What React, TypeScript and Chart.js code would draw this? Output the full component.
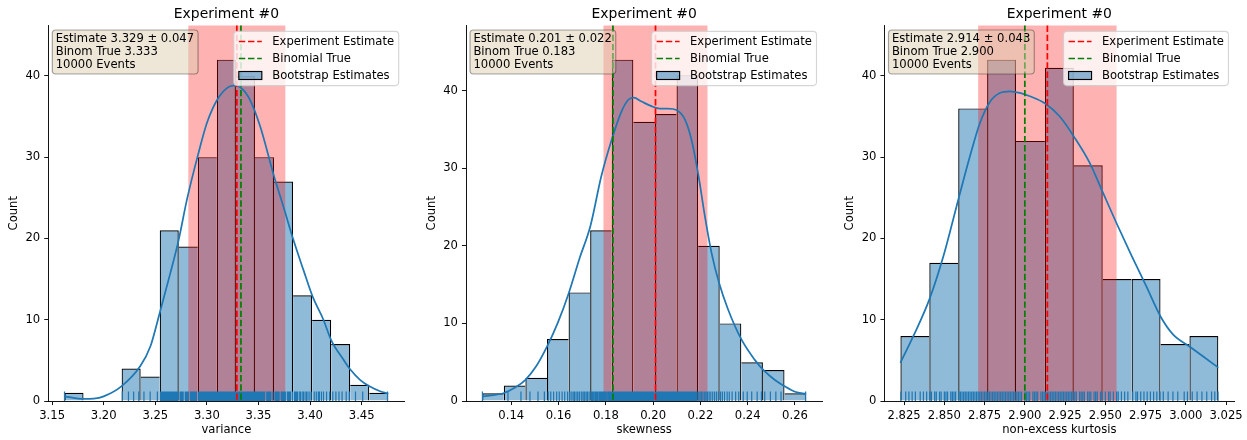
import React, { useEffect, useRef } from 'react';
import { Chart, registerables } from 'chart.js';

Chart.register(...registerables);
Chart.defaults.font.family = '"DejaVu Sans", sans-serif';
Chart.defaults.color = '#000';

// ---------- shared text ----------
const chartTitle = 'Experiment #0';
const yAxisLabel = 'Count';
const legendLabels = ['Experiment Estimate', 'Binomial True', 'Bootstrap Estimates'];
const yTickValues = [0, 10, 20, 30, 40];

// ---------- panel 1 : variance ----------
const p1XLabel = 'variance';
const p1BinLo = 3.162;
const p1BinHi = 3.4758;
const p1Counts = [1, 0, 0, 4, 3, 21, 19, 30, 42, 40, 30, 27, 13, 10, 7, 2, 1];
const p1TickLabels = ['3.15', '3.20', '3.25', '3.30', '3.35', '3.40', '3.45'];
const p1KdeX = [3.1619, 3.1806, 3.1903, 3.2, 3.2171, 3.2355, 3.2452, 3.2542, 3.2645, 3.2726, 3.2807, 3.291, 3.3, 3.3097, 3.3194, 3.3258, 3.3323, 3.342, 3.3516, 3.3652, 3.3742, 3.3839, 3.3936, 3.4023, 3.4129, 3.4204, 3.4323, 3.4388, 3.4484, 3.4575, 3.4678, 3.4758];
const p1KdeY = [0.57, 0.25, 0.29, 0.57, 1.8, 4.3, 6.7, 10.8, 15.7, 19.8, 24.8, 30.1, 34.2, 37.0, 38.5, 38.8, 38.6, 37.0, 33.8, 27.6, 23.9, 19.8, 16.1, 12.9, 10.0, 7.5, 5.1, 3.9, 2.6, 1.8, 1.2, 0.9];
const p1Rug = [3.162, 3.218, 3.224, 3.229, 3.234, 3.239, 3.245, 3.252,
  3.255, 3.256, 3.257, 3.258, 3.259, 3.260, 3.261, 3.262, 3.263, 3.264, 3.265, 3.266, 3.267, 3.268, 3.269, 3.270, 3.271, 3.272,
  3.274, 3.275, 3.276, 3.277, 3.279, 3.280, 3.281, 3.282, 3.284, 3.285, 3.286, 3.287, 3.288, 3.289, 3.290,
  3.292, 3.293, 3.294, 3.295, 3.296, 3.297, 3.298, 3.299, 3.300, 3.301, 3.302, 3.303, 3.304, 3.305, 3.306, 3.307, 3.308, 3.309,
  3.310, 3.311, 3.312, 3.313, 3.314, 3.315, 3.316, 3.317, 3.318, 3.319, 3.320, 3.321, 3.322, 3.323, 3.324, 3.325, 3.326, 3.327, 3.328,
  3.329, 3.330, 3.331, 3.332, 3.333, 3.334, 3.335, 3.336, 3.337, 3.338, 3.339, 3.340, 3.341, 3.342, 3.343, 3.344, 3.345, 3.346,
  3.347, 3.348, 3.349, 3.350, 3.351, 3.352, 3.353, 3.354, 3.355, 3.356, 3.358, 3.359, 3.360, 3.361, 3.362, 3.364,
  3.366, 3.367, 3.368, 3.369, 3.370, 3.372, 3.373, 3.374, 3.375, 3.376, 3.378, 3.379, 3.380, 3.381, 3.383,
  3.385, 3.386, 3.387, 3.388, 3.390, 3.391, 3.393, 3.394, 3.396, 3.397, 3.399, 3.401,
  3.404, 3.406, 3.408, 3.409, 3.411, 3.413, 3.416, 3.419,
  3.422, 3.425, 3.428, 3.431, 3.435, 3.438,
  3.444, 3.451, 3.475];
const p1Estimate = 3.329;
const p1Error = 0.047;
const p1True = 3.333;
const p1Events = 10000;

// ---------- panel 2 : skewness ----------
const p2XLabel = 'skewness';
const p2BinLo = 0.1277;
const p2BinHi = 0.2647;
const p2Counts = [1, 2, 3, 8, 14, 22, 44, 36, 37, 42, 20, 10, 5, 4, 1];
const p2TickLabels = ['0.14', '0.16', '0.18', '0.20', '0.22', '0.24', '0.26'];
const p2KdeX = [0.1277, 0.1367, 0.1414, 0.1459, 0.1506, 0.1551, 0.1597, 0.1643, 0.1689, 0.1735, 0.1781, 0.1826, 0.1866, 0.1894, 0.1918, 0.1951, 0.1993, 0.2028, 0.2063, 0.2099, 0.2134, 0.2162, 0.2192, 0.2219, 0.2247, 0.2279, 0.2317, 0.2374, 0.243, 0.2466, 0.2515, 0.2556, 0.26, 0.2647];
const p2KdeY = [0.6, 1.0, 1.7, 2.7, 4.5, 7.0, 10.1, 13.9, 18.4, 22.6, 29.0, 33.8, 37.3, 38.8, 39.1, 38.6, 38.0, 37.7, 37.7, 37.5, 36.3, 33.7, 29.0, 23.8, 19.1, 15.2, 11.8, 7.9, 5.3, 4.0, 2.7, 1.9, 1.2, 0.9];
const p2Rug = [0.1278, 0.1386, 0.1441, 0.1479, 0.1513, 0.1540,
  0.1556, 0.1567, 0.1579, 0.1592, 0.1603, 0.1615, 0.1626, 0.1638,
  0.1646, 0.1653, 0.1661, 0.1667, 0.1674, 0.1681, 0.1688, 0.1696, 0.1703, 0.1709, 0.1716, 0.1722, 0.1729,
  0.1737, 0.1742, 0.1747, 0.1753, 0.1758, 0.1762, 0.1767, 0.1773, 0.1778, 0.1783, 0.1787, 0.1792, 0.1797, 0.1802, 0.1808, 0.1813, 0.1818, 0.1822,
  0.1827, 0.1831, 0.1835, 0.1838, 0.1842, 0.1846, 0.1849, 0.1853, 0.1857, 0.1860, 0.1864, 0.1868, 0.1871, 0.1875, 0.1879, 0.1882, 0.1886, 0.1890, 0.1893, 0.1897, 0.1901, 0.1904, 0.1908, 0.1912, 0.1915,
  0.1918, 0.1922, 0.1926, 0.1930, 0.1934, 0.1938, 0.1942, 0.1946, 0.1950, 0.1954, 0.1958, 0.1962, 0.1966, 0.1970, 0.1974, 0.1979, 0.1983, 0.1988, 0.1993, 0.1998, 0.2003,
  0.2009, 0.2013, 0.2017, 0.2021, 0.2026, 0.2030, 0.2034, 0.2038, 0.2043, 0.2047, 0.2051, 0.2056, 0.2060, 0.2064, 0.2069, 0.2073, 0.2078, 0.2082, 0.2087, 0.2091, 0.2096,
  0.2101, 0.2105, 0.2108, 0.2112, 0.2116, 0.2120, 0.2124, 0.2128, 0.2132, 0.2136, 0.2140, 0.2144, 0.2148, 0.2152, 0.2156, 0.2161, 0.2165, 0.2169, 0.2173, 0.2178, 0.2182, 0.2186,
  0.2193, 0.2199, 0.2205, 0.2211, 0.2218, 0.2224, 0.2230, 0.2237, 0.2244, 0.2252, 0.2260, 0.2268, 0.2276,
  0.2285, 0.2293, 0.2302, 0.2313, 0.2322, 0.2334, 0.2349, 0.2362,
  0.2381, 0.2398, 0.2417, 0.2440, 0.2458,
  0.2472, 0.2496, 0.2519, 0.2541,
  0.2645];
const p2Estimate = 0.201;
const p2Error = 0.022;
const p2True = 0.183;
const p2Events = 10000;

// ---------- panel 3 : non-excess kurtosis ----------
const p3XLabel = 'non-excess kurtosis';
const p3BinLo = 2.8227;
const p3BinHi = 3.0202;
const p3Counts = [8, 17, 36, 42, 32, 41, 29, 15, 15, 7, 8];
const p3TickLabels = ['2.825', '2.850', '2.875', '2.900', '2.925', '2.950', '2.975', '3.000', '3.025'];
const p3KdeX = [2.8227, 2.8308, 2.8407, 2.8494, 2.8587, 2.8659, 2.8721, 2.8783, 2.8845, 2.8907, 2.8969, 2.9031, 2.9126, 2.9217, 2.9306, 2.9403, 2.9486, 2.9569, 2.9665, 2.9755, 2.9843, 2.992, 3.0023, 3.0106, 3.0202];
const p3KdeY = [4.7, 8.0, 12.5, 17.8, 24.8, 30.1, 34.2, 36.8, 37.9, 38.1, 37.9, 37.5, 36.6, 35.0, 32.5, 29.3, 25.6, 21.9, 17.8, 14.1, 10.4, 8.2, 6.7, 5.5, 4.1];
const p3Rug = [2.823, 2.826, 2.828, 2.830, 2.832, 2.835, 2.837, 2.839,
  2.841, 2.842, 2.844, 2.845, 2.847, 2.848, 2.850, 2.851, 2.852, 2.854, 2.855, 2.856, 2.857,
  2.859, 2.860, 2.861, 2.862, 2.863, 2.864, 2.865, 2.866, 2.867, 2.868, 2.869, 2.870, 2.871, 2.872, 2.873, 2.874, 2.875, 2.876,
  2.877, 2.878, 2.879, 2.880, 2.881, 2.882, 2.883, 2.884, 2.885, 2.886, 2.887, 2.888, 2.889, 2.890, 2.891, 2.892, 2.893, 2.894,
  2.895, 2.896, 2.897, 2.898, 2.900, 2.901, 2.902, 2.903, 2.905, 2.906, 2.907, 2.908, 2.910, 2.911, 2.912,
  2.913, 2.914, 2.915, 2.916, 2.917, 2.918, 2.919, 2.920, 2.921, 2.922, 2.923, 2.924, 2.925, 2.926, 2.927, 2.928, 2.929, 2.930,
  2.931, 2.932, 2.934, 2.935, 2.936, 2.937, 2.939, 2.940, 2.941, 2.943, 2.944, 2.945, 2.947, 2.948,
  2.950, 2.952, 2.953, 2.955, 2.957, 2.958, 2.960, 2.962, 2.964,
  2.967, 2.969, 2.970, 2.972, 2.974, 2.976, 2.978, 2.980, 2.982, 2.984,
  2.986, 2.989, 2.992, 2.995, 2.999, 3.001,
  3.004, 3.007, 3.010, 3.013, 3.016, 3.018, 3.020];
const p3Estimate = 2.914;
const p3Error = 0.043;
const p3True = 2.9;
const p3Events = 10000;

// ---------- layout (pixels, not data) ----------
const FIG_W = 1247;
const FIG_H = 440;
const AX_LEFT = [48.3, 466, 884.5];
const AX_RIGHT = [404.5, 822.3, 1235];
const AX_TOP = 25.5;
const AX_BOTTOM = 401;
const FS = 11.6; // 10pt
const FS_TITLE = 13.9; // 12pt
const PT = 1.157;

type PanelData = {
  xLabel: string;
  binLo: number;
  binHi: number;
  counts: number[];
  tickLabels: string[];
  kdeX: number[];
  kdeY: number[];
  rug: number[];
  estimate: number;
  error: number;
  binomTrue: number;
  events: number;
};

const panels: PanelData[] = [
  { xLabel: p1XLabel, binLo: p1BinLo, binHi: p1BinHi, counts: p1Counts, tickLabels: p1TickLabels, kdeX: p1KdeX, kdeY: p1KdeY, rug: p1Rug, estimate: p1Estimate, error: p1Error, binomTrue: p1True, events: p1Events },
  { xLabel: p2XLabel, binLo: p2BinLo, binHi: p2BinHi, counts: p2Counts, tickLabels: p2TickLabels, kdeX: p2KdeX, kdeY: p2KdeY, rug: p2Rug, estimate: p2Estimate, error: p2Error, binomTrue: p2True, events: p2Events },
  { xLabel: p3XLabel, binLo: p3BinLo, binHi: p3BinHi, counts: p3Counts, tickLabels: p3TickLabels, kdeX: p3KdeX, kdeY: p3KdeY, rug: p3Rug, estimate: p3Estimate, error: p3Error, binomTrue: p3True, events: p3Events },
];

const FONT = `${FS}px "DejaVu Sans", sans-serif`;
const BLUE = '#1f77b4';
const BAR_FILL = 'rgba(31,119,180,0.5)';
const BAR_EDGE = '#000';
const DASH = [3.7 * 1.5 * PT, 1.6 * 1.5 * PT];
const VLW = 1.5 * PT;

function Panel({ d, idx }: { d: PanelData; idx: number }) {
  const ref = useRef<HTMLCanvasElement>(null);
  const L = AX_LEFT[idx];
  const R = AX_RIGHT[idx];
  const canvasLeft = Math.floor(L - 48);
  const yW = L - canvasLeft;
  const canvasRight = Math.min(FIG_W, Math.round(R + 12));
  const canvasW = canvasRight - canvasLeft;
  const padRight = canvasRight - R;

  useEffect(() => {
    const n = d.counts.length;
    const bw = (d.binHi - d.binLo) / n;
    const span = d.binHi - d.binLo;
    const xmin = d.binLo - 0.05 * span;
    const xmax = d.binHi + 0.05 * span;
    const ymax = Math.max(...d.counts) * 1.1;
    const bars = d.counts.map((c, i) => ({ x: d.binLo + (i + 0.5) * bw, y: c }));
    const kde = d.kdeX.map((x, i) => ({ x, y: d.kdeY[i] }));
    const tickVals = d.tickLabels.map((t) => parseFloat(t));

    const decor = {
      id: 'decor',
      afterDatasetDraw(chart: any, args: any) {
        if (args.index !== 0) return;
        const { ctx, chartArea: a } = chart;
        const xs = chart.scales.x;
        const x0 = xs.getPixelForValue(d.estimate - d.error);
        const x1 = xs.getPixelForValue(d.estimate + d.error);
        ctx.save();
        ctx.fillStyle = 'rgba(255,0,0,0.3)';
        ctx.fillRect(x0, a.top, x1 - x0, a.bottom - a.top);
        ctx.restore();
      },
      afterDatasetsDraw(chart: any) {
        const { ctx, chartArea: a } = chart;
        const xs = chart.scales.x;
        ctx.save();
        // rug
        const rugH = 0.025 * (a.bottom - a.top);
        ctx.strokeStyle = BLUE;
        ctx.lineWidth = 1.2;
        ctx.beginPath();
        for (const v of d.rug) {
          const px = xs.getPixelForValue(v);
          ctx.moveTo(px, a.bottom);
          ctx.lineTo(px, a.bottom - rugH);
        }
        ctx.stroke();
        // vertical lines
        const vline = (v: number, color: string) => {
          const px = xs.getPixelForValue(v);
          ctx.save();
          ctx.strokeStyle = color;
          ctx.lineWidth = VLW;
          ctx.setLineDash(DASH);
          ctx.beginPath();
          ctx.moveTo(px, a.top);
          ctx.lineTo(px, a.bottom);
          ctx.stroke();
          ctx.restore();
        };
        vline(d.estimate, '#ff0000');
        vline(d.binomTrue, '#008000');

        // text box (upper left)
        ctx.font = FONT;
        const lines = [
          `Estimate ${d.estimate.toFixed(3)} \u00b1 ${d.error.toFixed(3)}`,
          `Binom True ${d.binomTrue.toFixed(3)}`,
          `${d.events} Events`,
        ];
        const tx = a.left + 7.4;
        const tw = Math.max(...lines.map((s) => ctx.measureText(s).width));
        const bx0 = tx - 3.4;
        const bx1 = tx + tw + 4;
        const by0 = a.top + 4.5;
        const by1 = a.top + 48.5;
        ctx.beginPath();
        (ctx as any).roundRect(bx0, by0, bx1 - bx0, by1 - by0, 3.5);
        ctx.fillStyle = 'rgba(222,205,175,0.5)';
        ctx.fill();
        ctx.strokeStyle = 'rgba(0,0,0,0.35)';
        ctx.lineWidth = 1.15;
        ctx.stroke();
        ctx.fillStyle = '#000';
        ctx.textBaseline = 'middle';
        ctx.textAlign = 'left';
        lines.forEach((s, i) => ctx.fillText(s, tx, a.top + 13 + i * 13.1));

        // legend (upper right)
        const lw = Math.max(...legendLabels.map((s) => ctx.measureText(s).width));
        const legW = 38 + lw + 5;
        const legH = 54.3;
        const lx1 = a.right - 5.8;
        const lx0 = lx1 - legW;
        const ly0 = a.top + 5.8;
        ctx.beginPath();
        (ctx as any).roundRect(lx0, ly0, legW, legH, 3.5);
        ctx.fillStyle = 'rgba(255,255,255,0.8)';
        ctx.fill();
        ctx.strokeStyle = 'rgba(204,204,204,0.8)';
        ctx.lineWidth = 1.15;
        ctx.stroke();
        const rows = [10.2, 27.2, 44.2];
        const hx0 = lx0 + 5;
        const hx1 = lx0 + 28;
        const colors = ['#ff0000', '#008000'];
        for (let i = 0; i < 2; i++) {
          ctx.save();
          ctx.strokeStyle = colors[i];
          ctx.lineWidth = VLW;
          ctx.setLineDash(DASH);
          ctx.beginPath();
          ctx.moveTo(hx0, ly0 + rows[i]);
          ctx.lineTo(hx1, ly0 + rows[i]);
          ctx.stroke();
          ctx.restore();
        }
        ctx.fillStyle = BAR_FILL;
        ctx.fillRect(hx0, ly0 + rows[2] - 4, hx1 - hx0, 8);
        ctx.strokeStyle = '#000';
        ctx.lineWidth = 1.15;
        ctx.strokeRect(hx0, ly0 + rows[2] - 4, hx1 - hx0, 8);
        ctx.fillStyle = '#000';
        legendLabels.forEach((s, i) => ctx.fillText(s, lx0 + 38.4, ly0 + rows[i]));
        ctx.restore();
      },
    };

    const cnt = d.counts;
    const BW = 1.2;
    const chart = new Chart(ref.current as HTMLCanvasElement, {
      type: 'bar',
      data: {
        datasets: [
          {
            type: 'bar',
            label: legendLabels[2],
            data: bars as any,
            backgroundColor: BAR_FILL,
            borderColor: BAR_EDGE,
            borderWidth: (c: any) => {
              const i = c.dataIndex;
              const v = cnt[i];
              return {
                top: BW,
                bottom: 0,
                left: i === 0 || v >= cnt[i - 1] ? BW : 0,
                right: i === n - 1 || v > cnt[i + 1] ? BW : 0,
              };
            },
            borderSkipped: false,
            barPercentage: 1,
            categoryPercentage: 1,
            inflateAmount: 0,
            order: 2,
          } as any,
          {
            type: 'line',
            data: kde as any,
            borderColor: BLUE,
            borderWidth: 1.5 * PT,
            pointRadius: 0,
            fill: false,
            cubicInterpolationMode: 'monotone',
            order: 1,
          } as any,
        ],
      },
      options: {
        responsive: false,
        animation: false,
        devicePixelRatio: 1,
        events: [],
        layout: { padding: { left: 0, right: padRight, top: 0, bottom: 0 } },
        plugins: {
          legend: { display: false },
          tooltip: { enabled: false },
          title: {
            display: true,
            text: chartTitle,
            fullSize: false,
            color: '#000',
            font: { size: FS_TITLE, weight: 'normal', lineHeight: 1.2 },
            padding: { top: 14 - FS_TITLE * 0.6, bottom: AX_TOP - 14 - FS_TITLE * 0.6 },
          },
        },
        scales: {
          x: {
            type: 'linear',
            min: xmin,
            max: xmax,
            offset: false,
            grid: { display: true, drawOnChartArea: false, drawTicks: true, tickLength: 3.5 * PT, tickWidth: 0.8 * PT, tickColor: '#000', offset: false },
            border: { display: true, color: '#000', width: 0.8 * PT, z: 1 },
            ticks: {
              font: { size: FS },
              color: '#000',
              padding: 3.5 * PT,
              maxRotation: 0,
              autoSkip: false,
              callback: (_v: any, i: number) => d.tickLabels[i],
            },
            title: { display: true, text: d.xLabel, color: '#000', font: { size: FS, lineHeight: 1.2 }, padding: { top: 0, bottom: 3 } },
            afterBuildTicks: (s: any) => {
              s.ticks = tickVals.map((v) => ({ value: v }));
            },
            afterFit: (s: any) => {
              s.height = FIG_H - AX_BOTTOM;
            },
          } as any,
          y: {
            type: 'linear',
            min: 0,
            max: ymax,
            grid: { display: true, drawOnChartArea: false, drawTicks: true, tickLength: 3.5 * PT, tickWidth: 0.8 * PT, tickColor: '#000' },
            border: { display: true, color: '#000', width: 0.8 * PT, z: 1 },
            ticks: { font: { size: FS }, color: '#000', padding: 3.5 * PT, callback: (v: any) => String(v) },
            title: { display: true, text: yAxisLabel, color: '#000', font: { size: FS, lineHeight: 1.2 }, padding: { top: yW - 34.3 - FS * 0.6, bottom: 0 } },
            afterBuildTicks: (s: any) => {
              s.ticks = yTickValues.map((v) => ({ value: v }));
            },
            afterFit: (s: any) => {
              s.width = yW;
            },
          } as any,
        },
      },
      plugins: [decor],
    });
    return () => chart.destroy();
  }, []);

  return (
    <canvas
      ref={ref}
      width={canvasW}
      height={FIG_H}
      style={{ position: 'absolute', left: canvasLeft, top: 0, width: canvasW, height: FIG_H, display: 'block' }}
    />
  );
}

export default function App() {
  return (
    <div style={{ position: 'fixed', left: 0, top: 0, width: FIG_W, height: FIG_H, overflow: 'hidden', background: '#fff' }}>
      {panels.map((d, i) => (
        <Panel key={i} d={d} idx={i} />
      ))}
    </div>
  );
}
